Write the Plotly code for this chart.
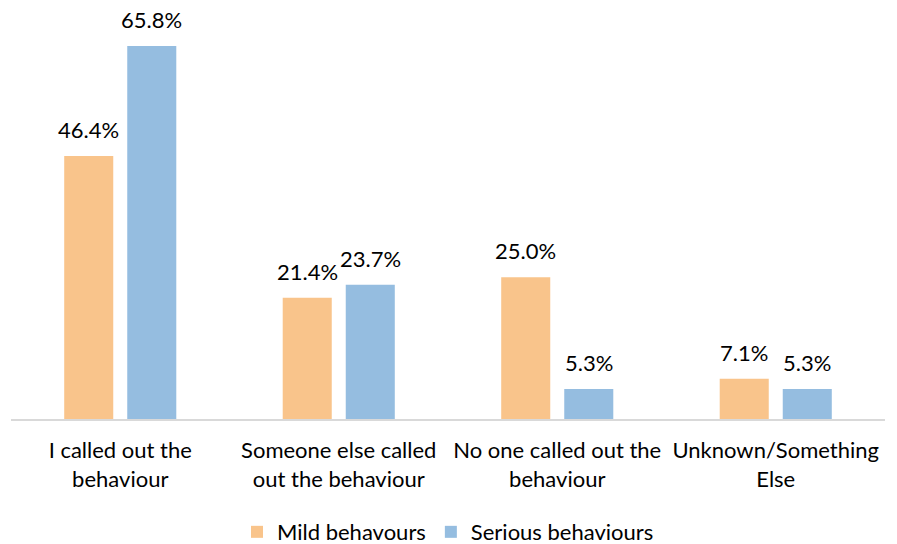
import plotly.graph_objects as go

categories = [
    "I called out the<br>behaviour",
    "Someone else called<br>out the behaviour",
    "No one called out the<br>behaviour",
    "Unknown/Something<br>Else",
]
mild = [46.4, 21.4, 25.0, 7.1]
serious = [65.8, 23.7, 5.3, 5.3]
series_names = ["Mild behavours", "Serious behaviours"]
colors = ["#F9C48B", "#95BDE0"]

FONT = "Lato"
SIZE = 22
fig = go.Figure()
for name, vals, col in zip(series_names, [mild, serious], colors):
    fig.add_trace(go.Bar(
        x=categories, y=vals, name=name,
        marker=dict(color=col, line=dict(width=0)),
    ))

# value labels above each bar (offset left/right for the grouped pair)
for vals, shift in [(mild, -31.5), (serious, 31.5)]:
    for c, v in zip(categories, vals):
        fig.add_annotation(
            x=c, y=v, xref="x", yref="y", text=f"{v:.1f}%",
            showarrow=False, xshift=shift, yanchor="bottom", yshift=11,
            font=dict(family=FONT, size=SIZE, color="#000000"),
        )

fig.update_layout(
    width=897, height=544,
    margin=dict(l=11, r=12, t=20, b=125, autoexpand=False),
    paper_bgcolor="white", plot_bgcolor="white",
    barmode="group", bargap=0.423, bargroupgap=0.222,
    font=dict(family=FONT, size=SIZE, color="#000000"),
    showlegend=True,
    legend=dict(
        orientation="h", x=0.5, xanchor="center",
        yref="container", y=0.022, yanchor="middle",
        font=dict(family=FONT, size=SIZE, color="#000000"),
        itemwidth=30,
    ),
    xaxis=dict(
        showline=True, linecolor="#D9D9D9", linewidth=1.5,
        ticks="", showgrid=False, ticklabelstandoff=11,
        tickfont=dict(family=FONT, size=SIZE, color="#000000"),
    ),
    yaxis=dict(range=[0, 70.4], visible=False, showgrid=False),
)

fig.write_html("out.html")
